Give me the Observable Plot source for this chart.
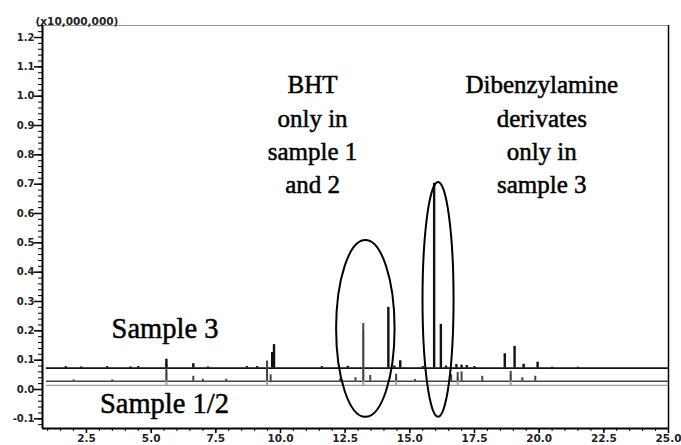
<!DOCTYPE html>
<html><head><meta charset="utf-8">
<script src="https://cdn.jsdelivr.net/npm/d3@7"></script>
<script src="https://cdn.jsdelivr.net/npm/@observablehq/plot@0.6"></script>
<style>body{margin:0;background:#fff} #chart svg{display:block}</style>
</head><body><div id="chart"></div>
<script>
// ---- axis ticks ----
const xTicks = [2.5, 5.0, 7.5, 10.0, 12.5, 15.0, 17.5, 20.0, 22.5, 25.0];
const yTicks = [-0.1, 0.0, 0.1, 0.2, 0.3, 0.4, 0.5, 0.6, 0.7, 0.8, 0.9, 1.0, 1.1, 1.2];
const xMinorTicks = d3.range(1, 25.01, 0.5);
const yMinorTicks = d3.range(-0.12, 1.241, 0.02);
const yUnitLabel = "(x10,000,000)";

// ---- baselines of the three traces ----
const traceNames = ["Sample 3", "Sample 1", "Sample 2"];
const traceBaselines = [0.073, 0.028, 0.014];

// ---- peaks: retention time (min) and apex (x10,000,000) ----
const sample3Times = [1.7, 2.3, 3.3, 4.2, 4.5, 5.59, 6.63, 7.2, 8.7, 9.1, 9.68, 9.75, 11.6, 12.6, 14.17, 14.4, 14.63, 15.5, 15.94, 16.2, 16.4, 16.8, 17.0, 17.2, 17.5, 18.67, 19.05, 19.4, 19.94, 20.5, 21.5];
const sample3Tops  = [0.078, 0.077, 0.078, 0.077, 0.078, 0.103, 0.088, 0.077, 0.078, 0.078, 0.126, 0.153, 0.078, 0.079, 0.28, 0.08, 0.098, 0.078, 0.703, 0.222, 0.08, 0.085, 0.083, 0.082, 0.078, 0.122, 0.147, 0.086, 0.093, 0.076, 0.076];
const sample1Times = [2.0, 3.5, 5.59, 6.63, 7.0, 7.9, 9.48, 9.62, 12.3, 12.9, 13.2, 13.47, 14.47, 15.2, 16.6, 16.85, 17.0, 17.8, 18.9, 19.35, 19.85];
const sample1Tops  = [0.033, 0.033, 0.085, 0.045, 0.035, 0.035, 0.097, 0.05, 0.035, 0.04, 0.225, 0.048, 0.052, 0.034, 0.05, 0.058, 0.06, 0.045, 0.062, 0.04, 0.045];
const sample2Times = [5.59, 9.48, 13.2, 14.47, 16.85, 18.9];
const sample2Tops  = [0.06, 0.09, 0.2, 0.04, 0.04, 0.05];

// ---- annotations ----
const noteTexts = ["BHT\nonly in\nsample 1\nand 2", "Dibenzylamine\nderivates\nonly in\nsample 3"];
const noteX = [11.24, 20.1];
const noteY = [1.09, 1.09];
const labelTexts = ["Sample 3", "Sample 1/2"];
const labelX = [3.47, 3.02];
const labelY = [0.205, -0.048];
// ellipses: centre and half-axes in data units
const ellipseCX = [13.3, 16.11];
const ellipseCY = [0.2065, 0.3055];
const ellipseRX = [1.13, 0.6];
const ellipseRY = [0.3015, 0.4005];

const xDomain = [0.8, 25];
const yDomain = [-0.133, 1.241];

const serif = "Liberation Serif, Times New Roman, serif";
const colors = ["#111", "#444", "#a0a0a0"];
const peakSets = [[sample3Times, sample3Tops], [sample1Times, sample1Tops], [sample2Times, sample2Tops]];
const peaks = [];
peakSets.forEach(([ts, hs], k) => ts.forEach((t, i) => peaks.push({trace: traceNames[k], t, base: traceBaselines[k], top: hs[i], k})));
const baseRows = traceNames.map((n, k) => ({trace: n, y: traceBaselines[k], k}));
const notes = noteTexts.map((s, i) => ({s, x: noteX[i], y: noteY[i]}));
const labels = labelTexts.map((s, i) => ({s, x: labelX[i], y: labelY[i]}));

function ellipseMark(index, scales) {
  const g = d3.create("svg:g").attr("fill", "none").attr("stroke", "#000").attr("stroke-width", 2);
  ellipseCX.forEach((cx, i) => {
    const cy = ellipseCY[i];
    g.append("ellipse")
      .attr("cx", scales.x(cx))
      .attr("cy", scales.y(cy))
      .attr("rx", Math.abs(scales.x(cx + ellipseRX[i]) - scales.x(cx)))
      .attr("ry", Math.abs(scales.y(cy + ellipseRY[i]) - scales.y(cy)));
  });
  return g.node();
}

const orderDraw = [2, 1, 0];
const chart = Plot.plot({
  width: 681, height: 445,
  marginLeft: 42, marginRight: 13, marginTop: 25, marginBottom: 17,
  x: {domain: xDomain, axis: null},
  y: {domain: yDomain, axis: null},
  style: {background: "#fff"},
  marks: [
    // frame
    Plot.ruleY([yDomain[1]], {stroke: "#999", strokeWidth: 1}),
    Plot.ruleX([xDomain[1]], {stroke: "#000", strokeWidth: 1.5}),
    // traces
    ...orderDraw.map(k => Plot.ruleY(baseRows.filter(d => d.k === k), {y: "y", x1: 0.95, x2: 25, stroke: colors[k], strokeWidth: k === 0 ? 1.8 : 1.4})),
    ...orderDraw.map(k => Plot.ruleX(peaks.filter(d => d.k === k), {x: "t", y1: "base", y2: "top", stroke: colors[k], strokeWidth: k === 0 ? 2.4 : 2})),
    ellipseMark,
    // text
    Plot.text(notes, {x: "x", y: "y", text: "s", lineAnchor: "top", lineHeight: 1.33, fontSize: 25, fontFamily: serif, fill: "#000", stroke: "#000", strokeWidth: 0.5}),
    Plot.text(labels, {x: "x", y: "y", text: "s", textAnchor: "start", fontSize: 28.5, fontFamily: serif, fill: "#000", stroke: "#000", strokeWidth: 0.5}),
    Plot.text([yUnitLabel], {frameAnchor: "top-left", text: d => d, textAnchor: "start", lineAnchor: "bottom", dx: -7, dy: -1, fontSize: 10.5, fontWeight: "bold", fontFamily: "DejaVu Sans", fill: "#222"}),
    // axes
    Plot.axisY(yMinorTicks, {tickSize: 4, tickFormat: () => "", stroke: "#000"}),
    Plot.axisY(yTicks, {tickSize: 8, tickPadding: 0, tickFormat: d => d.toFixed(1), fontSize: 10, fontWeight: "bold", fontFamily: "DejaVu Sans", fill: "#222", stroke: "#000", strokeWidth: 1.5}),
    Plot.axisX(xMinorTicks, {tickSize: 3, tickFormat: () => "", stroke: "#000"}),
    Plot.axisX(xTicks, {tickSize: 5, tickPadding: 1, tickFormat: d => d.toFixed(1), fontSize: 10.5, fontWeight: "bold", fontFamily: "DejaVu Sans", fill: "#222", stroke: "#000", strokeWidth: 1.5}),
    Plot.ruleX([xDomain[0]], {stroke: "#000", strokeWidth: 2}),
    Plot.ruleY([yDomain[0]], {stroke: "#000", strokeWidth: 2})
  ]
});
document.getElementById("chart").appendChild(chart);
</script>
</body></html>
